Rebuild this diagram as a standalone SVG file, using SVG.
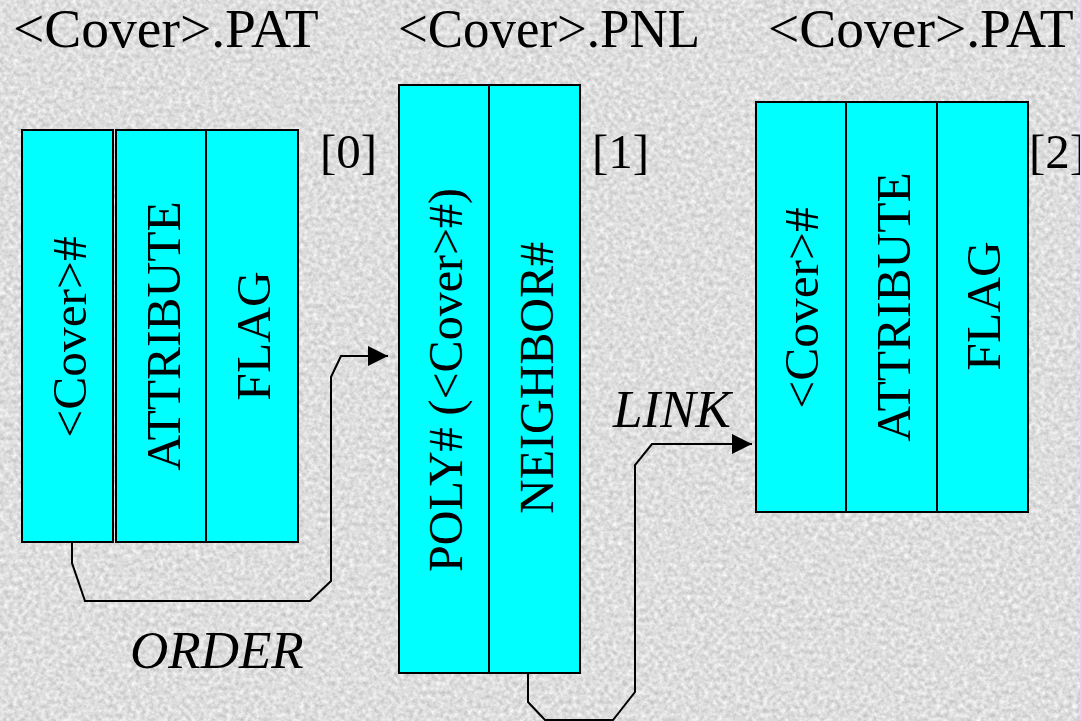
<svg xmlns="http://www.w3.org/2000/svg" width="1082" height="721" viewBox="0 0 1082 721">
  <defs>
    <filter id="granite" x="0" y="0" width="100%" height="100%" color-interpolation-filters="sRGB">
      <feTurbulence type="fractalNoise" baseFrequency="0.22" numOctaves="3" seed="7" result="n"/>
      <feColorMatrix in="n" type="matrix" values="0.3 0 0 0 0.72  0.3 0 0 0 0.72  0.3 0 0 0 0.72  0 0 0 0 1"/>
    </filter>
    <marker id="arrow" markerWidth="20" markerHeight="20" refX="20" refY="10" orient="auto" markerUnits="userSpaceOnUse">
      <path d="M0,0 L20,10 L0,20 Z" fill="#000"/>
    </marker>
    <style>
      .cell { fill: #00ffff; stroke: #000; stroke-width: 2; }
      .lbl { font-family: "Liberation Serif", "Times New Roman", serif; font-size: 49.5px; fill: #000; }
      .lbl48 { font-family: "Liberation Serif", "Times New Roman", serif; font-size: 48px; fill: #000; }
      .idx { font-family: "Liberation Serif", "Times New Roman", serif; font-size: 49px; fill: #000; }
      .vt { text-anchor: middle; }
      .title { font-family: "Liberation Serif", "Times New Roman", serif; font-size: 55.5px; fill: #000; }
      .it { font-family: "Liberation Serif", "Times New Roman", serif; font-size: 53px; font-style: italic; fill: #000; }
      .conn { fill: none; stroke: #000; stroke-width: 2; }
    </style>
  </defs>

  <rect x="0" y="0" width="1082" height="721" fill="#dddddd"/>
  <rect x="0" y="0" width="1082" height="721" filter="url(#granite)"/>

  <g id="titles">
    <text class="title" x="13" y="47">&lt;Cover&gt;.PAT</text>
    <text class="title" x="398" y="47" textLength="302" lengthAdjust="spacingAndGlyphs">&lt;Cover&gt;.PNL</text>
    <text class="title" x="768" y="47">&lt;Cover&gt;.PAT</text>
  </g>

  <g id="node-pat0">
    <rect class="cell" x="22" y="130" width="91" height="412"/>
    <rect class="cell" x="116" y="130" width="90" height="412"/>
    <rect class="cell" x="206" y="130" width="92" height="412"/>
    <text class="lbl vt" transform="translate(86,337) rotate(-90)">&lt;Cover&gt;#</text>
    <text class="lbl vt" transform="translate(180,336) rotate(-90)">ATTRIBUTE</text>
    <text class="lbl vt" transform="translate(270,336) rotate(-90)">FLAG</text>
    <text class="idx" x="320" y="168">[0]</text>
  </g>

  <g id="node-pnl1">
    <rect class="cell" x="399" y="85" width="90" height="588"/>
    <rect class="cell" x="489" y="85" width="91" height="588"/>
    <text class="lbl48 vt" transform="translate(462,380) rotate(-90)">POLY# (&lt;Cover&gt;#)</text>
    <text class="lbl48 vt" transform="translate(553,378) rotate(-90)">NEIGHBOR#</text>
    <text class="idx" x="592" y="168">[1]</text>
  </g>

  <g id="node-pat2">
    <rect class="cell" x="756" y="102" width="90" height="410"/>
    <rect class="cell" x="846" y="102" width="91" height="410"/>
    <rect class="cell" x="937" y="102" width="91" height="410"/>
    <text class="lbl vt" transform="translate(818,308) rotate(-90)">&lt;Cover&gt;#</text>
    <text class="lbl vt" transform="translate(910,307) rotate(-90)">ATTRIBUTE</text>
    <text class="lbl vt" transform="translate(1000,306) rotate(-90)">FLAG</text>
    <text class="idx" x="1029" y="168">[2]</text>
  </g>

  <g id="connectors">
    <path class="conn" d="M72,542 V563 L85,601 H310 L331,581 V377 L341,356 H388" marker-end="url(#arrow)"/>
    <path class="conn" d="M528,673 V702 L545,720 H613 L635,692 V465 L652,444 H752" marker-end="url(#arrow)"/>
    <text class="it" x="130" y="668">ORDER</text>
    <text class="it" x="613" y="427">LINK</text>
  </g>

  <rect x="1080" y="0" width="2" height="721" fill="#f2c8f2"/>
</svg>
